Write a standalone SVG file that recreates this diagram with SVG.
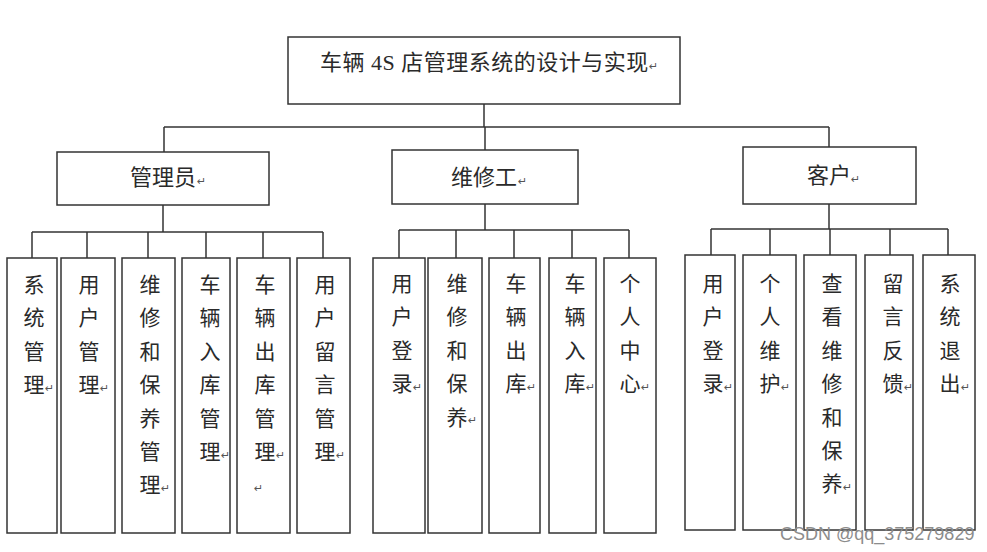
<svg xmlns="http://www.w3.org/2000/svg" width="987" height="552" viewBox="0 0 987 552">
<style>
.box{fill:#fff;stroke:#333;stroke-width:1.5}
.ln{stroke:#333;stroke-width:1.5;fill:none}
.t{font-family:"Liberation Serif","Noto Sans CJK SC",serif;font-size:22px;fill:#2a2a2a}
.v{font-family:"Liberation Serif","Noto Sans CJK SC",serif;font-size:21px;fill:#2a2a2a;text-anchor:middle}
.r{font-family:"DejaVu Sans","Noto Sans CJK SC",sans-serif;font-size:11px;fill:#555}
.wm{font-family:"Liberation Sans",Arial,sans-serif;font-size:18px;fill:#8c8c8c}
</style>
<rect width="987" height="552" fill="#fff"/>
<g id="connectors">
<line class="ln" x1="484" y1="104" x2="484" y2="127"/>
<line class="ln" x1="164" y1="127" x2="829" y2="127"/>
<line class="ln" x1="164" y1="127" x2="164" y2="152"/>
<line class="ln" x1="485" y1="127" x2="485" y2="150"/>
<line class="ln" x1="829" y1="127" x2="829" y2="147"/>
<line class="ln" x1="163" y1="205" x2="163" y2="232"/>
<line class="ln" x1="32" y1="232" x2="323" y2="232"/>
<line class="ln" x1="32" y1="232" x2="32" y2="258"/>
<line class="ln" x1="87" y1="232" x2="87" y2="258"/>
<line class="ln" x1="148" y1="232" x2="148" y2="258"/>
<line class="ln" x1="206" y1="232" x2="206" y2="258"/>
<line class="ln" x1="263" y1="232" x2="263" y2="258"/>
<line class="ln" x1="323" y1="232" x2="323" y2="258"/>
<line class="ln" x1="485" y1="204" x2="485" y2="230"/>
<line class="ln" x1="399" y1="230" x2="629" y2="230"/>
<line class="ln" x1="399" y1="230" x2="399" y2="258"/>
<line class="ln" x1="456" y1="230" x2="456" y2="258"/>
<line class="ln" x1="514" y1="230" x2="514" y2="258"/>
<line class="ln" x1="572" y1="230" x2="572" y2="258"/>
<line class="ln" x1="629" y1="230" x2="629" y2="258"/>
<line class="ln" x1="829" y1="204" x2="829" y2="229"/>
<line class="ln" x1="711" y1="229" x2="948" y2="229"/>
<line class="ln" x1="711" y1="229" x2="711" y2="255"/>
<line class="ln" x1="770" y1="229" x2="770" y2="255"/>
<line class="ln" x1="830" y1="229" x2="830" y2="255"/>
<line class="ln" x1="890" y1="229" x2="890" y2="255"/>
<line class="ln" x1="948" y1="229" x2="948" y2="255"/>
</g>
<g id="root">
<rect class="box" x="288" y="37" width="392" height="67"/>
<text class="t" x="320" y="70" letter-spacing="0.5">车辆 4S 店管理系统的设计与实现</text>
<text class="r" x="649" y="70">↵</text>
</g>
<g id="admin">
<rect class="box" x="57" y="152" width="212" height="53"/>
<text class="t" x="130" y="185">管理员</text>
<text class="r" x="197" y="185">↵</text>
</g>
<g id="mechanic">
<rect class="box" x="392" y="150" width="186" height="54"/>
<text class="t" x="451" y="185">维修工</text>
<text class="r" x="518" y="185">↵</text>
</g>
<g id="customer">
<rect class="box" x="743" y="147" width="173" height="57"/>
<text class="t" x="807" y="183">客户</text>
<text class="r" x="851" y="183">↵</text>
</g>
<g id="a1"><rect class="box" x="7" y="258" width="50" height="275"/>
<text class="v"><tspan x="34" y="292">系</tspan><tspan x="34" y="325.4">统</tspan><tspan x="34" y="358.8">管</tspan><tspan x="34" y="392.2">理</tspan></text><text class="r" x="45" y="392">↵</text></g>
<g id="a2"><rect class="box" x="61" y="258" width="54" height="275"/>
<text class="v"><tspan x="89" y="292">用</tspan><tspan x="89" y="325.4">户</tspan><tspan x="89" y="358.8">管</tspan><tspan x="89" y="392.2">理</tspan></text><text class="r" x="100" y="392">↵</text></g>
<g id="a3"><rect class="box" x="122" y="258" width="53" height="275"/>
<text class="v"><tspan x="150" y="292">维</tspan><tspan x="150" y="325.4">修</tspan><tspan x="150" y="358.8">和</tspan><tspan x="150" y="392.2">保</tspan><tspan x="150" y="425.6">养</tspan><tspan x="150" y="459">管</tspan><tspan x="150" y="492.4">理</tspan></text><text class="r" x="161" y="492">↵</text></g>
<g id="a4"><rect class="box" x="182" y="258" width="48" height="275"/>
<text class="v"><tspan x="210" y="292">车</tspan><tspan x="210" y="325.4">辆</tspan><tspan x="210" y="358.8">入</tspan><tspan x="210" y="392.2">库</tspan><tspan x="210" y="425.6">管</tspan><tspan x="210" y="459">理</tspan></text><text class="r" x="221" y="459">↵</text></g>
<g id="a5"><rect class="box" x="237" y="258" width="53" height="275"/>
<text class="v"><tspan x="265" y="292">车</tspan><tspan x="265" y="325.4">辆</tspan><tspan x="265" y="358.8">出</tspan><tspan x="265" y="392.2">库</tspan><tspan x="265" y="425.6">管</tspan><tspan x="265" y="459">理</tspan></text><text class="r" x="276" y="459">↵</text><text class="r" x="254" y="492">↵</text></g>
<g id="a6"><rect class="box" x="297" y="258" width="53" height="275"/>
<text class="v"><tspan x="325" y="292">用</tspan><tspan x="325" y="325.4">户</tspan><tspan x="325" y="358.8">留</tspan><tspan x="325" y="392.2">言</tspan><tspan x="325" y="425.6">管</tspan><tspan x="325" y="459">理</tspan></text><text class="r" x="336" y="459">↵</text></g>
<g id="m1"><rect class="box" x="373" y="258" width="52" height="275"/>
<text class="v"><tspan x="402" y="291">用</tspan><tspan x="402" y="324.4">户</tspan><tspan x="402" y="357.8">登</tspan><tspan x="402" y="391.2">录</tspan></text><text class="r" x="413" y="391">↵</text></g>
<g id="m2"><rect class="box" x="428" y="258" width="54" height="275"/>
<text class="v"><tspan x="457" y="291">维</tspan><tspan x="457" y="324.4">修</tspan><tspan x="457" y="357.8">和</tspan><tspan x="457" y="391.2">保</tspan><tspan x="457" y="424.6">养</tspan></text><text class="r" x="468" y="424">↵</text></g>
<g id="m3"><rect class="box" x="489" y="258" width="51" height="275"/>
<text class="v"><tspan x="516" y="291">车</tspan><tspan x="516" y="324.4">辆</tspan><tspan x="516" y="357.8">出</tspan><tspan x="516" y="391.2">库</tspan></text><text class="r" x="527" y="391">↵</text></g>
<g id="m4"><rect class="box" x="549" y="258" width="47" height="275"/>
<text class="v"><tspan x="575" y="291">车</tspan><tspan x="575" y="324.4">辆</tspan><tspan x="575" y="357.8">入</tspan><tspan x="575" y="391.2">库</tspan></text><text class="r" x="586" y="391">↵</text></g>
<g id="m5"><rect class="box" x="604" y="258" width="52" height="275"/>
<text class="v"><tspan x="630" y="291">个</tspan><tspan x="630" y="324.4">人</tspan><tspan x="630" y="357.8">中</tspan><tspan x="630" y="391.2">心</tspan></text><text class="r" x="641" y="391">↵</text></g>
<g id="c1"><rect class="box" x="685" y="255" width="50" height="275"/>
<text class="v"><tspan x="713" y="291">用</tspan><tspan x="713" y="324.4">户</tspan><tspan x="713" y="357.8">登</tspan><tspan x="713" y="391.2">录</tspan></text><text class="r" x="724" y="391">↵</text></g>
<g id="c2"><rect class="box" x="743" y="255" width="53" height="275"/>
<text class="v"><tspan x="770" y="291">个</tspan><tspan x="770" y="324.4">人</tspan><tspan x="770" y="357.8">维</tspan><tspan x="770" y="391.2">护</tspan></text><text class="r" x="781" y="391">↵</text></g>
<g id="c3"><rect class="box" x="804" y="255" width="52" height="275"/>
<text class="v"><tspan x="832" y="291">查</tspan><tspan x="832" y="324.4">看</tspan><tspan x="832" y="357.8">维</tspan><tspan x="832" y="391.2">修</tspan><tspan x="832" y="424.6">和</tspan><tspan x="832" y="458">保</tspan><tspan x="832" y="491.4">养</tspan></text><text class="r" x="843" y="491">↵</text></g>
<g id="c4"><rect class="box" x="865" y="255" width="48" height="275"/>
<text class="v"><tspan x="893" y="291">留</tspan><tspan x="893" y="324.4">言</tspan><tspan x="893" y="357.8">反</tspan><tspan x="893" y="391.2">馈</tspan></text><text class="r" x="904" y="391">↵</text></g>
<g id="c5"><rect class="box" x="923" y="255" width="52" height="275"/>
<text class="v"><tspan x="950" y="291">系</tspan><tspan x="950" y="324.4">统</tspan><tspan x="950" y="357.8">退</tspan><tspan x="950" y="391.2">出</tspan></text><text class="r" x="961" y="391">↵</text></g>
<text class="wm" x="780" y="540">CSDN @qq_375279829</text>
</svg>
